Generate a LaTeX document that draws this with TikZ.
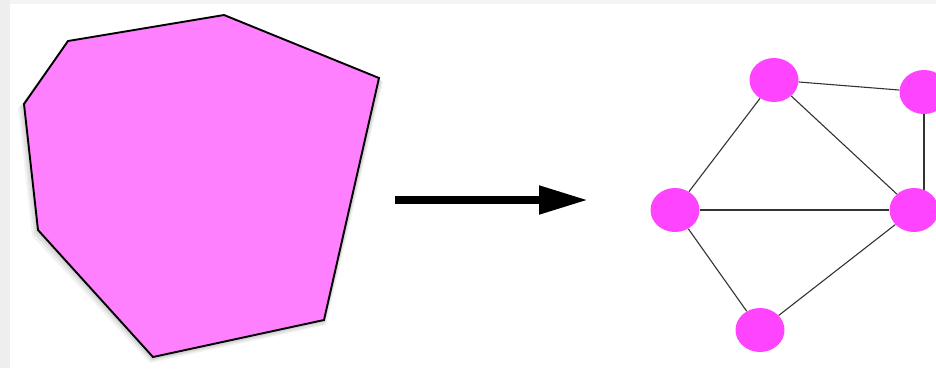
\documentclass[tikz,border=0pt]{standalone}
\usetikzlibrary{arrows.meta,shapes.geometric,backgrounds}
\definecolor{polyfill}{HTML}{FF80FF}
\definecolor{vertfill}{HTML}{FF44FF}
\definecolor{stripL}{HTML}{EEEEEE}
\definecolor{stripT}{HTML}{F4F4F4}
\begin{document}
\begin{tikzpicture}[x=1pt,y=-1pt,
  vert/.style={ellipse,fill=vertfill,minimum width=49pt,minimum height=44pt,inner sep=0pt},
  edgeline/.style={line width=1.1pt,draw=black!80},
  polyline/.style={draw=black,line width=1.9pt,fill=polyfill,line join=miter},
  bigarrow/.style={line width=8pt,-{Triangle[length=49pt,width=27pt]}}]
\useasboundingbox (0,0) rectangle (936,368);
% graph nodes
\node[vert] (t) at (774,80) {};
\node[vert] (tr) at (924,92) {};
\node[vert] (l) at (675,210) {};
\node[vert] (r) at (914,210) {};
\node[vert] (b) at (760,330) {};
\begin{pgfonlayer}{background}
\fill[white] (0,0) rectangle (936,368);
\fill[stripT] (0,0) rectangle (936,4);
\fill[stripL] (0,0) rectangle (10,368);
\draw[edgeline] (t) -- (tr);
\draw[edgeline] (t) -- (l);
\draw[edgeline] (t) -- (r);
\draw[edgeline] (tr) -- (tr |- r);
\draw[edgeline] (l) -- (r);
\draw[edgeline] (l) -- (b);
\draw[edgeline] (b) -- (r);
\end{pgfonlayer}
% shadow of polygon
\fill[black,opacity=0.05] (65,45) -- (227,19) -- (383,82) -- (326,325) -- (150,363) -- (32,236) -- (18,108) -- cycle;
\fill[black,opacity=0.06] (66,44) -- (226,18) -- (382,81) -- (325,324) -- (151,361) -- (34,234) -- (20,107) -- cycle;
\fill[black,opacity=0.06] (67,43) -- (225,17) -- (381,80) -- (325,322) -- (152,360) -- (36,232) -- (22,106) -- cycle;
% polygon
\path[polyline] (68,41) -- (224,15) -- (379,78) -- (324,320) -- (153,357) -- (38,230) -- (24,104) -- cycle;
% arrow
\coordinate (as) at (395,200);
\coordinate (ae) at (588,200);
\draw[bigarrow] (as) -- (ae);
\end{tikzpicture}
\end{document}
